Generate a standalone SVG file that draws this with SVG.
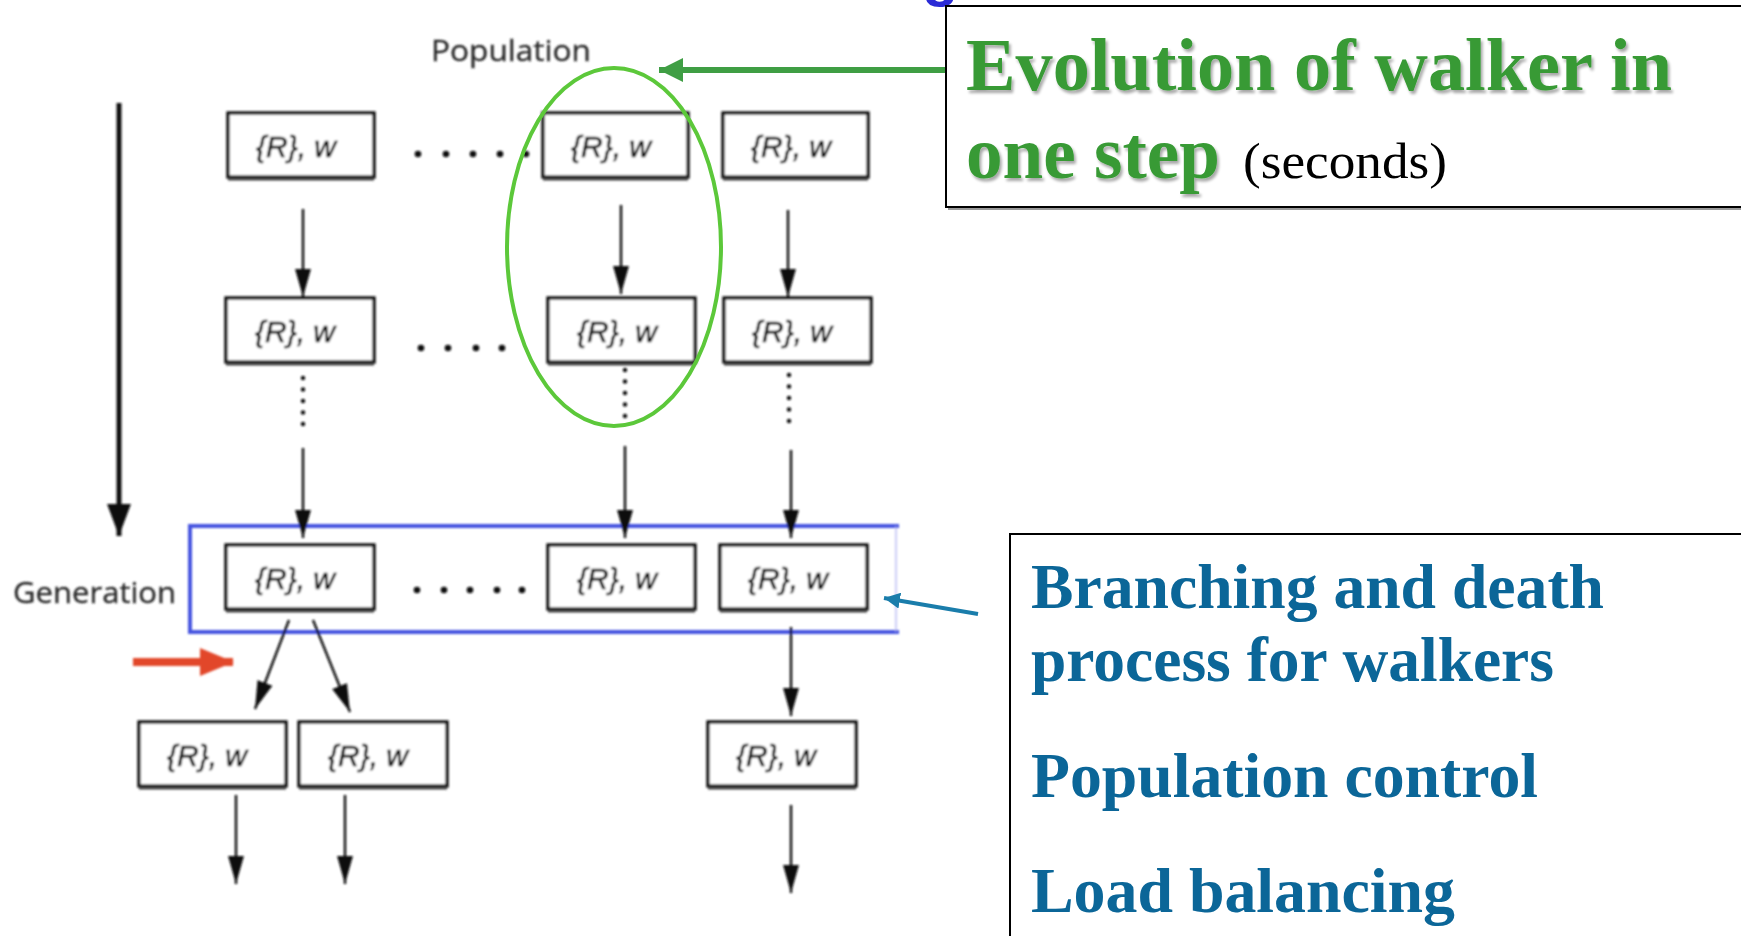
<svg xmlns="http://www.w3.org/2000/svg" width="1741" height="936" viewBox="0 0 1741 936">
  <defs>
    <style>
      .box rect { fill: #ffffff; stroke: #111111; stroke-width: 3.4; }
      .box .shade { stroke: #444444; stroke-width: 3; fill: none; }
      .box text { font-family: "Liberation Sans", Arial, sans-serif; font-style: italic; font-size: 29px; fill: #0a0a0a; stroke: #0a0a0a; stroke-width: 0.6; text-anchor: middle; }
      .label { font-family: "Open Sans", "DejaVu Sans", sans-serif; font-size: 30px; fill: #262626; stroke: #262626; stroke-width: 0.3; }
      .flow { stroke: #111111; stroke-width: 2.4; fill: none; marker-end: url(#tip); }
      .dots { stroke: #111111; stroke-width: 4.5; stroke-linecap: round; stroke-dasharray: 0 11.5; fill: none; }
      .dot { fill: #111111; }
      .green { font-family: "Liberation Serif", "Times New Roman", serif; font-weight: bold; font-size: 74px; fill: #379a35; }
      .teal { font-family: "Liberation Serif", "Times New Roman", serif; font-weight: bold; font-size: 63px; fill: #0b6698; }
      .frame { fill: #ffffff; stroke: #000000; stroke-width: 2; }
    </style>
    <marker id="tip" markerUnits="userSpaceOnUse" markerWidth="28" markerHeight="16" refX="28" refY="8" orient="auto">
      <path d="M0,0 L28,8 L0,16 z" fill="#111111"/>
    </marker>
    <marker id="bigTip" markerUnits="userSpaceOnUse" markerWidth="32" markerHeight="24" refX="32" refY="12" orient="auto">
      <path d="M0,0 L32,12 L0,24 z" fill="#111111"/>
    </marker>
    <marker id="greenTip" markerUnits="userSpaceOnUse" markerWidth="24" markerHeight="24" refX="24" refY="12" orient="auto">
      <path d="M0,0 L24,12 L0,24 z" fill="#3f9e44"/>
    </marker>
    <marker id="redTip" markerUnits="userSpaceOnUse" markerWidth="34" markerHeight="28" refX="33" refY="14" orient="auto">
      <path d="M0,0 L34,14 L0,28 z" fill="#e2472c"/>
    </marker>
    <marker id="tealTip" markerUnits="userSpaceOnUse" markerWidth="16" markerHeight="16" refX="16" refY="8" orient="auto">
      <path d="M0,0 L16,8 L0,16 z" fill="#1a7dab"/>
    </marker>
    <filter id="soft" x="-5%" y="-5%" width="110%" height="110%">
      <feGaussianBlur stdDeviation="0.8"/>
    </filter>
    <filter id="textShadow" x="-5%" y="-10%" width="115%" height="130%">
      <feGaussianBlur in="SourceAlpha" stdDeviation="1.6" result="b"/>
      <feOffset in="b" dx="2" dy="3" result="o"/>
      <feComponentTransfer in="o" result="s"><feFuncA type="linear" slope="0.35"/></feComponentTransfer>
      <feMerge><feMergeNode in="s"/><feMergeNode in="SourceGraphic"/></feMerge>
    </filter>
  </defs>

  <rect width="1741" height="936" fill="#ffffff"/>

  <!-- walker population diagram -->
  <g id="diagram" filter="url(#soft)">
    <text class="label" x="431" y="61" textLength="160" lengthAdjust="spacingAndGlyphs">Population</text>
    <text class="label" x="13" y="603" textLength="163" lengthAdjust="spacingAndGlyphs">Generation</text>

    <!-- generation band -->
    <g id="generation-band">
      <path d="M899,526 H190 V632 H899" fill="none" stroke="#4452e0" stroke-width="4"/>
      <line x1="896" y1="526" x2="896" y2="632" stroke="#a9aef0" stroke-width="1.2"/>
    </g>

    <!-- walker boxes: row 1 -->
    <g id="w1a" class="box"><rect x="228" y="113" width="146" height="64"/><line class="shade" x1="228" y1="179" x2="374" y2="179"/><text x="296" y="157" textLength="80" lengthAdjust="spacingAndGlyphs">{R}, w</text></g>
    <g id="w1b" class="box"><rect x="543" y="113" width="145" height="64"/><line class="shade" x1="543" y1="179" x2="688" y2="179"/><text x="611" y="157" textLength="80" lengthAdjust="spacingAndGlyphs">{R}, w</text></g>
    <g id="w1c" class="box"><rect x="723" y="113" width="145" height="64"/><line class="shade" x1="723" y1="179" x2="868" y2="179"/><text x="791" y="157" textLength="80" lengthAdjust="spacingAndGlyphs">{R}, w</text></g>

    <!-- row 2 -->
    <g id="w2a" class="box"><rect x="226" y="298" width="148" height="64"/><line class="shade" x1="226" y1="364" x2="374" y2="364"/><text x="295" y="342" textLength="80" lengthAdjust="spacingAndGlyphs">{R}, w</text></g>
    <g id="w2b" class="box"><rect x="548" y="298" width="147" height="64"/><line class="shade" x1="548" y1="364" x2="695" y2="364"/><text x="617" y="342" textLength="80" lengthAdjust="spacingAndGlyphs">{R}, w</text></g>
    <g id="w2c" class="box"><rect x="724" y="298" width="147" height="64"/><line class="shade" x1="724" y1="364" x2="871" y2="364"/><text x="792" y="342" textLength="80" lengthAdjust="spacingAndGlyphs">{R}, w</text></g>

    <!-- generation row -->
    <g id="w3a" class="box"><rect x="226" y="545" width="148" height="64"/><line class="shade" x1="226" y1="611" x2="374" y2="611"/><text x="295" y="589" textLength="80" lengthAdjust="spacingAndGlyphs">{R}, w</text></g>
    <g id="w3b" class="box"><rect x="548" y="545" width="147" height="64"/><line class="shade" x1="548" y1="611" x2="695" y2="611"/><text x="617" y="589" textLength="80" lengthAdjust="spacingAndGlyphs">{R}, w</text></g>
    <g id="w3c" class="box"><rect x="720" y="545" width="147" height="64"/><line class="shade" x1="720" y1="611" x2="867" y2="611"/><text x="788" y="589" textLength="80" lengthAdjust="spacingAndGlyphs">{R}, w</text></g>

    <!-- offspring row -->
    <g id="w4a" class="box"><rect x="139" y="722" width="147" height="64"/><line class="shade" x1="139" y1="788" x2="286" y2="788"/><text x="207" y="766" textLength="80" lengthAdjust="spacingAndGlyphs">{R}, w</text></g>
    <g id="w4b" class="box"><rect x="299" y="722" width="148" height="64"/><line class="shade" x1="299" y1="788" x2="447" y2="788"/><text x="368" y="766" textLength="80" lengthAdjust="spacingAndGlyphs">{R}, w</text></g>
    <g id="w4c" class="box"><rect x="708" y="722" width="148" height="64"/><line class="shade" x1="708" y1="788" x2="856" y2="788"/><text x="776" y="766" textLength="80" lengthAdjust="spacingAndGlyphs">{R}, w</text></g>

    <!-- ellipsis dots between columns -->
    <g id="ellipses">
      <circle class="dot" cx="418" cy="154" r="3.3"/><circle class="dot" cx="446" cy="154" r="3.3"/><circle class="dot" cx="473" cy="154" r="3.3"/><circle class="dot" cx="500" cy="154" r="3.3"/><circle class="dot" cx="526" cy="154" r="3.3"/>
      <circle class="dot" cx="421" cy="348" r="3.3"/><circle class="dot" cx="448" cy="348" r="3.3"/><circle class="dot" cx="476" cy="348" r="3.3"/><circle class="dot" cx="502" cy="348" r="3.3"/>
      <circle class="dot" cx="417" cy="590" r="3.3"/><circle class="dot" cx="444" cy="590" r="3.3"/><circle class="dot" cx="470" cy="590" r="3.3"/><circle class="dot" cx="497" cy="590" r="3.3"/><circle class="dot" cx="522" cy="590" r="3.3"/>
    </g>

    <!-- connectors -->
    <g id="connectors">
      <line x1="119" y1="103" x2="119" y2="536" stroke="#111111" stroke-width="5" marker-end="url(#bigTip)"/>

      <line class="flow" x1="303" y1="209" x2="303" y2="297"/>
      <line class="flow" x1="621" y1="205" x2="621" y2="294"/>
      <line class="flow" x1="788" y1="210" x2="788" y2="297"/>

      <line class="dots" x1="303" y1="378" x2="303" y2="432"/>
      <line class="dots" x1="625" y1="370" x2="625" y2="424"/>
      <line class="dots" x1="789" y1="375" x2="789" y2="429"/>

      <line class="flow" x1="303" y1="448" x2="303" y2="538"/>
      <line class="flow" x1="625" y1="446" x2="625" y2="538"/>
      <line class="flow" x1="791" y1="450" x2="791" y2="538"/>

      <line class="flow" x1="289" y1="620" x2="255" y2="709"/>
      <line class="flow" x1="313" y1="620" x2="350" y2="712"/>
      <line class="flow" x1="791" y1="627" x2="791" y2="716"/>

      <line class="flow" x1="236" y1="795" x2="236" y2="884"/>
      <line class="flow" x1="345" y1="795" x2="345" y2="884"/>
      <line class="flow" x1="791" y1="805" x2="791" y2="893"/>

      <line x1="133" y1="662" x2="233" y2="662" stroke="#e2472c" stroke-width="8" marker-end="url(#redTip)"/>
    </g>
  </g>

  <!-- highlight of one walker's step -->
  <ellipse id="step-highlight" cx="614" cy="247" rx="107" ry="179" fill="none" stroke="#5cc83a" stroke-width="4"/>

  <!-- annotation connectors -->
  <g id="callout-connectors">
    <line x1="947" y1="70" x2="659" y2="70" stroke="#3f9e44" stroke-width="6" marker-end="url(#greenTip)"/>
    <line x1="978" y1="614" x2="884" y2="598" stroke="#1a7dab" stroke-width="4" marker-end="url(#tealTip)"/>
  </g>

  <!-- clipped title fragment above the top callout -->
  <text x="922" y="-5" font-family="Liberation Sans, Arial, sans-serif" font-weight="bold" font-size="60" fill="#2b2bd6">g</text>

  <!-- callout: one step -->
  <g id="callout-step">
    <line x1="948" y1="209" x2="1741" y2="209" stroke="#9a9a9a" stroke-width="2"/>
    <rect class="frame" x="946" y="6" width="800" height="201"/>
    <g filter="url(#textShadow)">
      <text class="green" x="966" y="90" textLength="706" lengthAdjust="spacingAndGlyphs">Evolution of walker in</text>
      <text class="green" x="966" y="178" textLength="254" lengthAdjust="spacingAndGlyphs">one step</text>
    </g>
    <text x="1243" y="178" font-family="Liberation Serif, Times New Roman, serif" font-size="51" fill="#000000" textLength="204" lengthAdjust="spacingAndGlyphs">(seconds)</text>
  </g>

  <!-- callout: population handling -->
  <g id="callout-branching">
    <rect class="frame" x="1010" y="534" width="740" height="420"/>
    <text class="teal" x="1031" y="608" textLength="573" lengthAdjust="spacingAndGlyphs">Branching and death</text>
    <text class="teal" x="1031" y="681" textLength="523" lengthAdjust="spacingAndGlyphs">process for walkers</text>
    <text class="teal" x="1031" y="797" textLength="507" lengthAdjust="spacingAndGlyphs">Population control</text>
    <text class="teal" x="1031" y="912" textLength="424" lengthAdjust="spacingAndGlyphs">Load balancing</text>
  </g>
</svg>
